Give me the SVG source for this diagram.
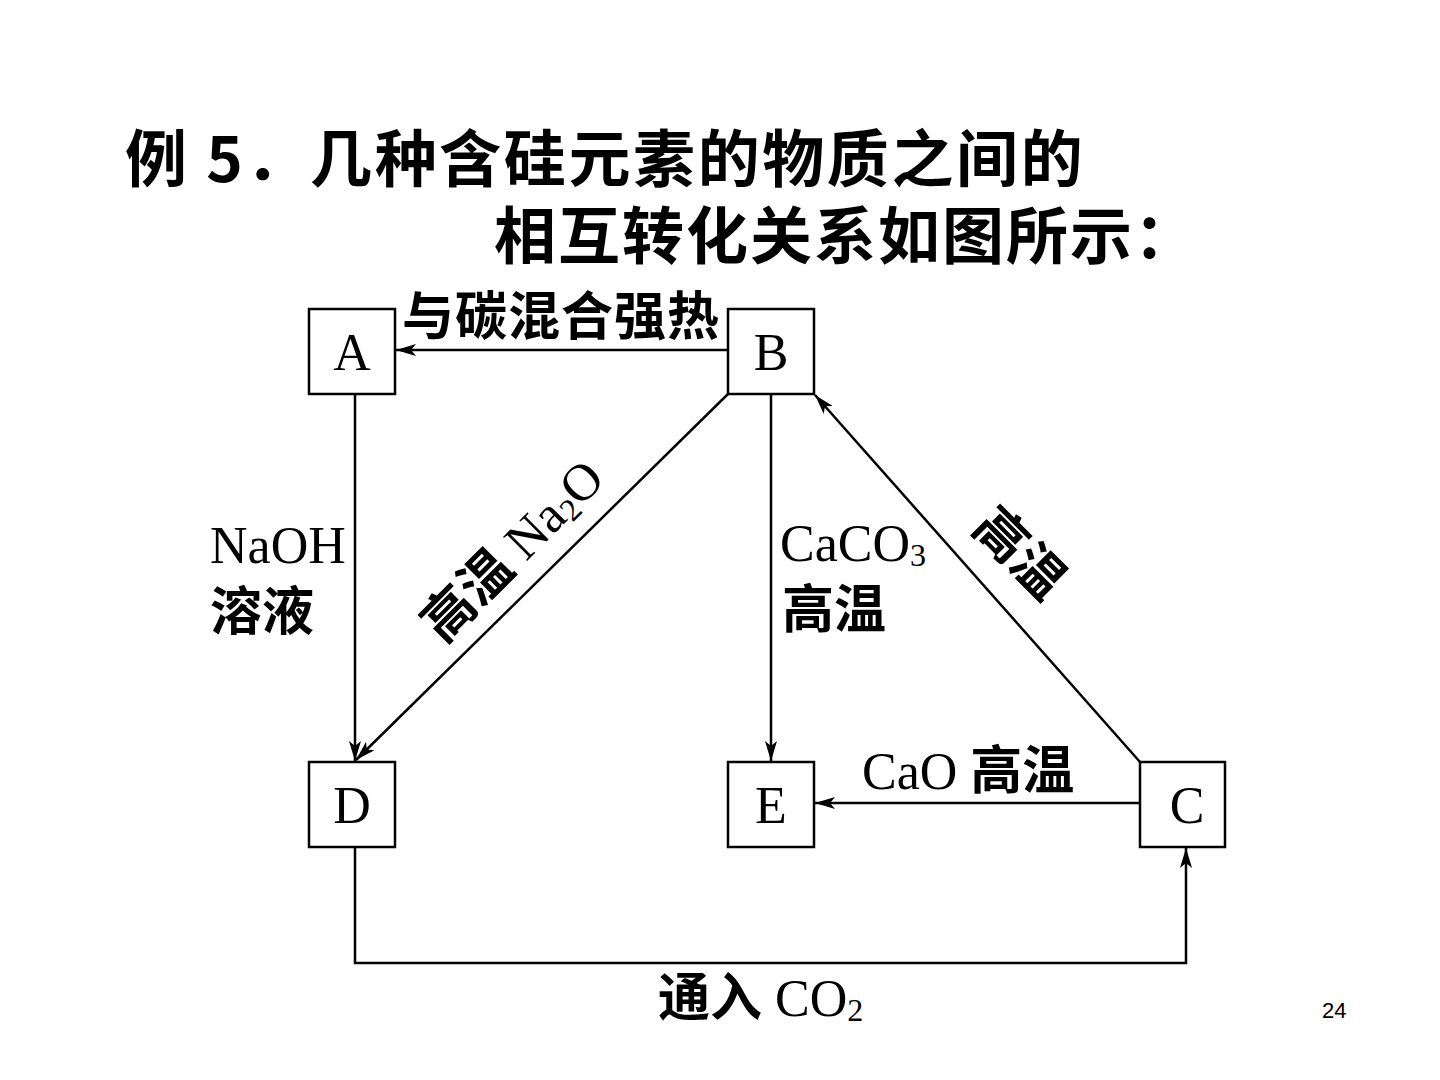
<svg xmlns="http://www.w3.org/2000/svg" width="1440" height="1080" viewBox="0 0 1440 1080">
<defs>
<style>
.title{font-family:"Noto Sans CJK SC","Noto Sans",sans-serif;font-weight:bold;font-size:62px;fill:#000}
.box{fill:#fff;stroke:#000;stroke-width:2.5}
.letter{font-family:"Liberation Serif",serif;font-size:52px;fill:#000;text-anchor:middle}
.lbl{font-family:"Liberation Serif","Noto Sans CJK SC",serif;font-size:52px;fill:#000}
.sub{font-family:"Liberation Serif",serif;font-size:32px}
.cjk{font-family:"Noto Sans CJK SC",sans-serif;font-weight:bold}
.edge{fill:none;stroke:#000;stroke-width:2.5}
.pg{font-family:"Liberation Sans",sans-serif;font-size:22px;fill:#000}
</style>
<marker id="ah" viewBox="0 0 20 12" refX="20" refY="6" markerWidth="20" markerHeight="12" markerUnits="userSpaceOnUse" orient="auto">
<path d="M0,0 L20,6 L0,12 L5,6 Z" fill="#000"/>
</marker>
</defs>
<rect width="1440" height="1080" fill="#fff"/>
<g id="title">
<text class="title" x="125" y="182" letter-spacing="2.6">例 5．几种含硅元素的物质之间的</text>
<text class="title" x="494" y="259" letter-spacing="2">相互转化关系如图所示：</text>
</g>
<g id="connectors">
<line class="edge" x1="728" y1="350" x2="396" y2="350" marker-end="url(#ah)"/>
<line class="edge" x1="355" y1="394" x2="355" y2="761" marker-end="url(#ah)"/>
<line class="edge" x1="728" y1="394" x2="356" y2="760" marker-end="url(#ah)"/>
<line class="edge" x1="771" y1="394" x2="771" y2="761" marker-end="url(#ah)"/>
<line class="edge" x1="1140" y1="762" x2="815" y2="395" marker-end="url(#ah)"/>
<line class="edge" x1="1140" y1="803" x2="815" y2="803" marker-end="url(#ah)"/>
<path class="edge" d="M355,847 V963 H1186 V848" marker-end="url(#ah)"/>
</g>
<g id="labels">
<text class="lbl cjk" x="402" y="335" letter-spacing="1">与碳混合强热</text>
<text class="lbl" x="210" y="563">NaOH</text>
<text class="lbl cjk" x="210" y="630">溶液</text>
<text class="lbl" transform="translate(525,563) rotate(-45)" text-anchor="middle"><tspan class="cjk">高温</tspan> Na<tspan class="sub" dy="5">2</tspan><tspan dy="-5">O</tspan></text>
<text class="lbl" x="780" y="561">CaCO<tspan class="sub" dy="5">3</tspan></text>
<text class="lbl cjk" x="782" y="628">高温</text>
<text class="lbl cjk" transform="translate(1007,566) rotate(45)" text-anchor="middle">高温</text>
<text class="lbl" x="862" y="789">CaO <tspan class="cjk">高温</tspan></text>
<text class="lbl" x="658" y="1016"><tspan class="cjk">通入</tspan> CO<tspan class="sub" dy="5">2</tspan></text>
</g>
<g id="node-A"><rect class="box" x="309" y="309" width="86" height="85"/><text class="letter" x="352" y="370">A</text></g>
<g id="node-B"><rect class="box" x="728" y="309" width="86" height="85"/><text class="letter" x="771" y="370">B</text></g>
<g id="node-D"><rect class="box" x="309" y="762" width="86" height="85"/><text class="letter" x="352" y="823">D</text></g>
<g id="node-E"><rect class="box" x="728" y="762" width="86" height="85"/><text class="letter" x="771" y="823">E</text></g>
<g id="node-C"><rect class="box" x="1140" y="762" width="85" height="85"/><text class="letter" x="1187" y="823">C</text></g>
<text class="pg" x="1322" y="1018">24</text>
</svg>
